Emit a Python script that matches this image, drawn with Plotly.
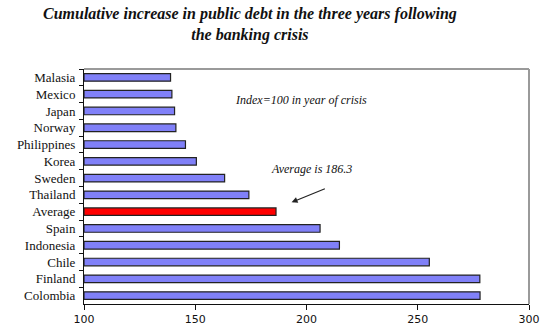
import plotly.graph_objects as go

countries = ["Malasia", "Mexico", "Japan", "Norway", "Philippines", "Korea", "Sweden",
             "Thailand", "Average", "Spain", "Indonesia", "Chile", "Finland", "Colombia"]
values = [138.9, 139.5, 140.7, 141.3, 145.6, 150.5, 163.2,
          174.1, 186.3, 206.1, 214.8, 255.2, 277.9, 278.0]
colors = ["#FF0000" if c == "Average" else "#8080F8" for c in countries]
x_ticks = [100, 150, 200, 250, 300]

SERIF = "Liberation Serif"

fig = go.Figure(go.Bar(
    y=countries, x=[v - 100 for v in values], base=100, orientation="h",
    marker=dict(color=colors, line=dict(color="#222222", width=1.2)),
    width=0.45,
))

fig.update_layout(
    width=544, height=335,
    margin=dict(l=84, r=15, t=69, b=31, autoexpand=False),
    paper_bgcolor="white", plot_bgcolor="white",
    showlegend=False,
    shapes=[
        dict(type="line", xref="paper", yref="paper", x0=0, x1=1, y0=1, y1=1,
             line=dict(color="#9A9A9A", width=2)),
        dict(type="line", xref="paper", yref="paper", x0=1, x1=1, y0=0, y1=1,
             line=dict(color="#9A9A9A", width=2)),
    ],
    annotations=[
        dict(text="Cumulative increase in public debt in the three years following<br>the banking crisis",
             xref="paper", yref="paper", x=0.372, y=1.0, yshift=66, xanchor="center", yanchor="top",
             showarrow=False,
             font=dict(family=SERIF, size=16, color="#111111", style="italic", weight="bold")),
        dict(text="Index=100 in year of crisis", xref="x", yref="paper",
             x=(301 - 84) / 2.2265 + 100, y=(304.3 - 100) / 235.3, xanchor="center", yanchor="middle",
             showarrow=False,
             font=dict(family=SERIF, size=12, color="#111111", style="italic")),
        dict(text="Average is 186.3", xref="x", yref="paper",
             x=(312 - 84) / 2.2265 + 100, y=(304.3 - 169) / 235.3, xanchor="center", yanchor="middle",
             showarrow=False,
             font=dict(family=SERIF, size=12, color="#111111", style="italic")),
        dict(text="", xref="x", yref="paper",
             x=(291.7 - 84) / 2.2265 + 100, y=(304.3 - 202.5) / 235.3,
             ax=34.8, ay=-14.2, axref="pixel", ayref="pixel",
             showarrow=True, arrowhead=2, arrowsize=1, arrowwidth=1.2, arrowcolor="#222222"),
    ],
)

fig.update_xaxes(
    range=[100, 300], tickvals=x_ticks, showgrid=False, zeroline=False,
    showline=True, linecolor="#111111", linewidth=1, automargin=False,
    ticks="outside", ticklen=5, tickcolor="#111111",
    tickfont=dict(family="DejaVu Sans", size=11, color="#111111"),
)
fig.update_yaxes(
    categoryorder="array", categoryarray=countries, autorange="reversed",
    showgrid=False, zeroline=False, automargin=False,
    showline=True, linecolor="#111111", linewidth=1,
    ticks="outside", ticklen=4, tickcolor="#111111", tickson="boundaries",
    tickfont=dict(family=SERIF, size=13, color="#111111"),
    ticklabelstandoff=5,
)

fig.write_html("out.html")
